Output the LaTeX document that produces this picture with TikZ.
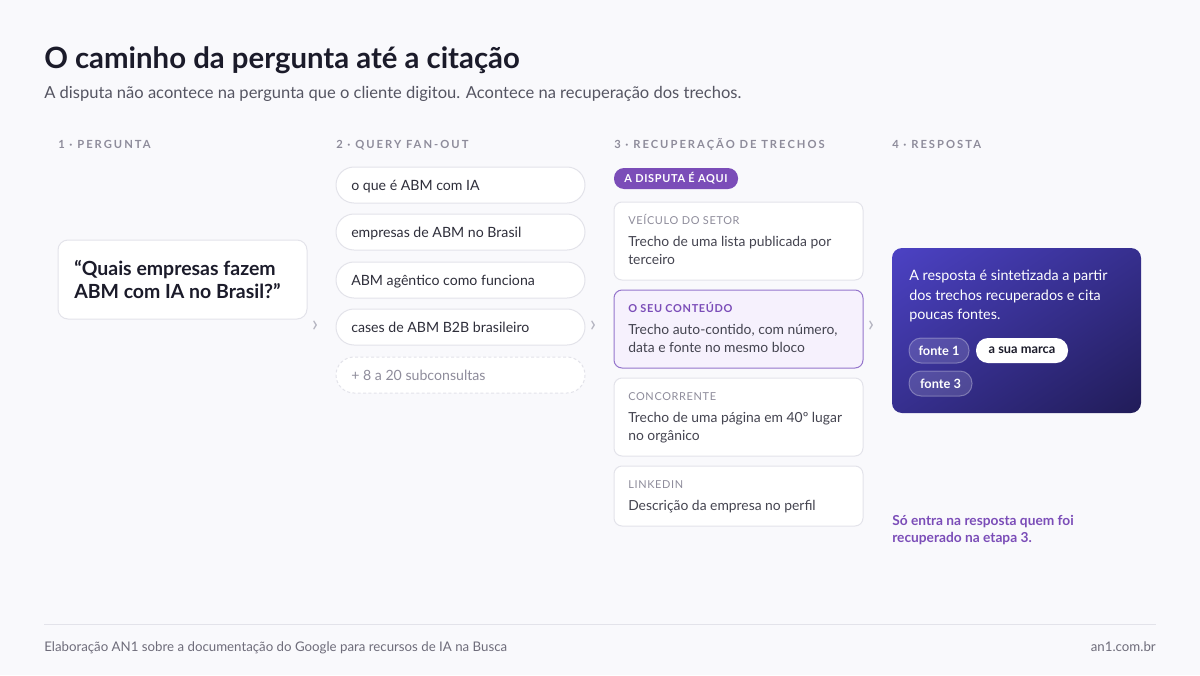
\documentclass[tikz,border=0pt]{standalone}
\usepackage{fontspec}
\usetikzlibrary{shadings}
\setmainfont{Lato}
\newfontfamily\capsfont[LetterSpace=18]{Lato}
\newfontfamily\lblfont[LetterSpace=6]{Lato}

\definecolor{bgc}{HTML}{F9F9FC}
\definecolor{titlec}{HTML}{1B1B2A}
\definecolor{subc}{HTML}{555562}
\definecolor{headc}{HTML}{8E8C9B}
\definecolor{linec}{HTML}{E3E3EA}
\definecolor{pillc}{HTML}{2E2E3A}
\definecolor{cardc}{HTML}{444450}
\definecolor{purplec}{HTML}{7B4DB8}
\definecolor{purpleln}{HTML}{9575CC}
\definecolor{purplebg}{HTML}{F6F1FD}
\definecolor{gradA}{HTML}{4C42C4}
\definecolor{gradM}{HTML}{362F8E}
\definecolor{gradB}{HTML}{211C58}
\definecolor{footc}{HTML}{6E6C7A}
\definecolor{chevc}{HTML}{B4B4C0}

\tikzset{
  title/.style={font=\fontsize{22}{26}\selectfont\bfseries, text=titlec, inner sep=0},
  subtitle/.style={font=\fontsize{12.4}{14}\selectfont, text=subc, inner sep=0},
  colhead/.style={font=\capsfont\fontsize{8.4}{10}\selectfont\bfseries, text=headc, inner sep=0},
  box/.style={draw=linec, fill=white, line width=0.75pt, rounded corners=7.5pt},
  qpill/.style={draw=linec, fill=white, line width=0.75pt, rounded corners=13.5pt},
  qtext/.style={font=\fontsize{10.6}{12}\selectfont, text=pillc, inner sep=0},
  cardlbl/.style={font=\lblfont\fontsize{8.2}{10}\selectfont, text=headc, inner sep=0},
  cardtxt/.style={font=\fontsize{10.4}{13.5}\selectfont, text=cardc, inner sep=0, align=left},
  chev/.style={font=\fontsize{17}{17}\selectfont, text=chevc, inner sep=0},
  srcpill/.style={draw=white, draw opacity=0.3, fill=white, fill opacity=0.14, text opacity=1,
    rounded corners=9pt, line width=0.75pt},
  srctext/.style={font=\fontsize{9.6}{10}\selectfont\bfseries, inner sep=0},
  foot/.style={font=\fontsize{9.95}{12}\selectfont, text=footc, inner sep=0}
}

\begin{document}
\begin{tikzpicture}[x=0.75pt,y=-0.75pt]
\fill[bgc] (0,0) rectangle (1200,675);

% title
\node[title, anchor=base west] (title) at (44,68) {O caminho da pergunta até a citação};
\node[subtitle, anchor=base west] (sub) at (44,98) {A disputa não acontece na pergunta que o cliente digitou. Acontece na recuperação dos trechos.};

% column heads
\node[colhead, anchor=base west] (h1) at (58,148) {1 · PERGUNTA};
\node[colhead, anchor=base west] (h2) at (336,148) {2 · QUERY FAN-OUT};
\node[colhead, anchor=base west] (h3) at (614,148) {3 · RECUPERAÇÃO DE TRECHOS};
\node[colhead, anchor=base west] (h4) at (892,148) {4 · RESPOSTA};

% 1 pergunta
\draw[box] (58,240) rectangle (307,319);
\node[anchor=north west, inner sep=0, align=left, text=titlec,
  font=\fontsize{14.6}{17.25}\selectfont\bfseries] (quest) at (74,260)
  {“Quais empresas fazem\\ABM com IA no Brasil?”};
\node[chev] (chev1) at (315,326) {›};

% 2 fan-out
\draw[qpill] (336,167) rectangle (585,203);
\node[qtext, anchor=base west] (q1) at (351,190) {o que é ABM com IA};
\draw[qpill] (336,214) rectangle (585,250);
\node[qtext, anchor=base west] (q2) at (351,237) {empresas de ABM no Brasil};
\draw[qpill] (336,262) rectangle (585,298);
\node[qtext, anchor=base west] (q3) at (351,285) {ABM agêntico como funciona};
\draw[qpill] (336,309) rectangle (585,345);
\node[qtext, anchor=base west] (q4) at (351,332) {cases de ABM B2B brasileiro};
\draw[qpill, dashed, dash pattern=on 2.2pt off 1.8pt] (336,357) rectangle (585,393);
\node[qtext, anchor=base west, text=headc] (q5) at (351,380) {+ 8 a 20 subconsultas};
\node[chev] (chev2) at (593,326) {›};

% 3 recuperacao
\fill[purplec, rounded corners=7.5pt] (614,168) rectangle (738,189);
\node[font=\lblfont\fontsize{8.2}{10}\selectfont\bfseries, text=white, inner sep=0] (badge) at (676,178.5) {A DISPUTA É AQUI};

\draw[box, rounded corners=6pt] (614,202) rectangle (863,280);
\node[cardlbl, anchor=base west] (l1) at (628,224) {VEÍCULO DO SETOR};
\node[cardtxt, anchor=north west] (t1) at (628,236) {Trecho de uma lista publicada por\\terceiro};

\draw[box, rounded corners=6pt, draw=purpleln, fill=purplebg] (614,290) rectangle (863,368);
\node[cardlbl, anchor=base west, text=purplec, font=\lblfont\fontsize{8.2}{10}\selectfont\bfseries] (l2) at (628,312) {O SEU CONTEÚDO};
\node[cardtxt, anchor=north west] (t2) at (628,324) {Trecho auto-contido, com número,\\data e fonte no mesmo bloco};

\draw[box, rounded corners=6pt] (614,378) rectangle (863,456);
\node[cardlbl, anchor=base west] (l3) at (628,400) {CONCORRENTE};
\node[cardtxt, anchor=north west] (t3) at (628,412) {Trecho de uma página em 40º lugar\\no orgânico};

\draw[box, rounded corners=6pt] (614,466) rectangle (863,526);
\node[cardlbl, anchor=base west] (l4) at (628,488) {LINKEDIN};
\node[cardtxt, anchor=north west] (t4) at (628,500) {Descrição da empresa no perfil};
\node[chev] (chev3) at (871,326) {›};

% 4 resposta
\shade[rounded corners=7.5pt, upper left=gradA, upper right=gradM, lower left=gradM, lower right=gradB] (892,248) rectangle (1141,413);
\node[anchor=north west, inner sep=0, align=left, text=white,
  font=\fontsize{10.75}{14.6}\selectfont] (ans) at (909,270)
  {A resposta é sintetizada a partir\\dos trechos recuperados e cita\\poucas fontes.};
\draw[srcpill] (909,338) rectangle (969,363);
\node[srctext, text=white] (s1) at (939,350.5) {fonte 1};
\fill[white, rounded corners=9pt] (976,338) rectangle (1068,363);
\node[srctext, text=titlec] (s2) at (1022,350.5) {a sua marca};
\draw[srcpill] (909,371) rectangle (972,396);
\node[srctext, text=white] (s3) at (940.5,383.5) {fonte 3};

\node[anchor=north west, inner sep=0, align=left, text=purplec,
  font=\fontsize{10.3}{12.75}\selectfont\bfseries] (note) at (892,515)
  {Só entra na resposta quem foi\\recuperado na etapa 3.};

% footer
\draw[linec, line width=0.75pt] (44,624) -- (1156,624);
\node[foot, anchor=base west] (src) at (44,651) {Elaboração AN1 sobre a documentação do Google para recursos de IA na Busca};
\node[foot, anchor=base east] (site) at (1156,651) {an1.com.br};
\end{tikzpicture}
\end{document}
